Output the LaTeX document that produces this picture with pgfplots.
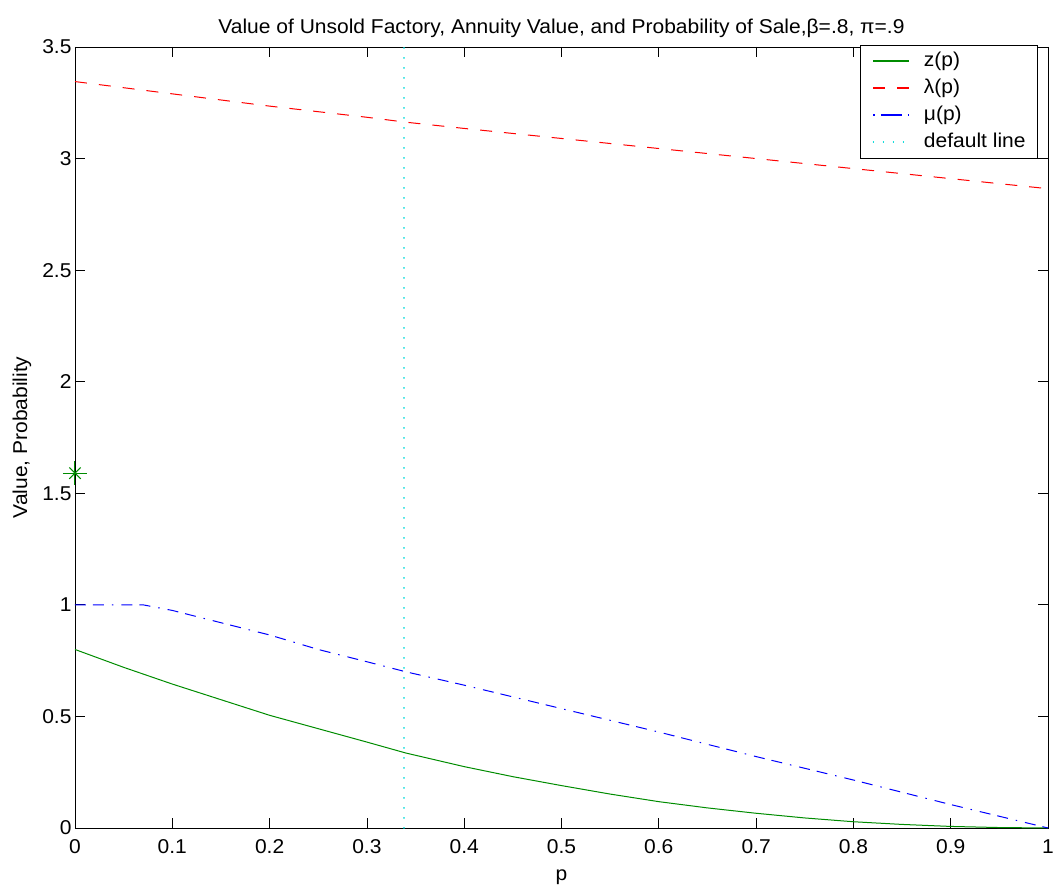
\documentclass[border=0pt]{standalone}
\usepackage{fontspec}
\setmainfont{Liberation Sans}[FakeStretch=1.05]
\usepackage{pgfplots}
\usepackage{pgfplotstable}
\pgfplotsset{compat=1.18}
\usetikzlibrary{calc}
\definecolor{mgreen}{rgb}{0,0.55,0}
\definecolor{mcyan}{rgb}{0,0.85,0.85}

% z(p): value of unsold factory
\pgfplotstableread{
p z
0.00 0.800
0.05 0.720
0.10 0.645
0.15 0.575
0.20 0.505
0.25 0.445
0.30 0.385
0.34 0.336
0.40 0.275
0.45 0.230
0.50 0.190
0.55 0.152
0.60 0.118
0.65 0.090
0.70 0.066
0.75 0.045
0.80 0.028
0.85 0.016
0.90 0.007
0.95 0.002
1.00 0.000
}\zdata

% lambda(p): annuity value
\pgfplotstableread{
p l
0.00 3.345
0.10 3.290
0.20 3.235
0.30 3.185
0.34 3.163
0.40 3.135
0.50 3.090
0.60 3.045
0.70 3.000
0.80 2.955
0.90 2.910
1.00 2.865
}\ldata

% mu(p): probability of sale
\pgfplotstableread{
p m
0.00 1.000
0.05 1.000
0.07 1.000
0.10 0.975
0.15 0.920
0.20 0.865
0.25 0.800
0.30 0.745
0.34 0.700
0.40 0.640
0.50 0.535
0.60 0.430
0.70 0.320
0.80 0.215
0.90 0.105
1.00 0.000
}\mdata

\newcommand{\lbl}{\fontsize{20}{24}\selectfont}

\begin{document}
\begin{tikzpicture}
\begin{axis}[
  name=ax,
  scale only axis, width=973pt, height=781pt,
  xmin=0, xmax=1, ymin=0, ymax=3.5,
  xtick={0,0.1,0.2,0.3,0.4,0.5,0.6,0.7,0.8,0.9,1},
  ytick={0,0.5,1,1.5,2,2.5,3,3.5},
  tick pos=both, tick align=inside, major tick length=10pt,
  axis line style={black, line width=0.9pt},
  tick style={black, line width=0.7pt},
  /pgf/number format/assume math mode=true,
  tick label style={font=\lbl},
  xticklabel style={yshift=-8pt},
  xlabel={p}, ylabel={Value, Probability},
  label style={font=\lbl},
  xlabel style={at={(axis description cs:0.5,0)}, anchor=center, yshift=-49pt},
  ylabel style={at={(axis description cs:0,0.5)}, anchor=center, yshift=53pt},
  title={Value of Unsold Factory, Annuity Value, and Probability of Sale,β=.8, π=.9},
  title style={font=\lbl, at={(axis description cs:0.5,1)}, anchor=center, yshift=13pt},
  clip=false,
  legend style={at={(1,1)}, anchor=north east, xshift=-10pt, yshift=2pt,
    draw=black, line width=0.9pt, font=\lbl, fill=white,
    inner xsep=12pt, inner ysep=6.5pt, row sep=8pt,
    nodes={inner sep=0pt, text height=15pt, text depth=4pt},
    /tikz/every odd column/.append style={column sep=14pt}},
  legend cell align=left,
  legend image code/.code={\draw[#1, line width=1.2pt] (0pt,0.5pt) -- (36pt,0.5pt);},
]
\addplot[mgreen, line width=1pt] table[x=p, y=z] {\zdata};
\addplot[red, line width=1pt, dash pattern=on 12pt off 12pt] table[x=p, y=l] {\ldata};
\addplot[blue, line width=1pt, dash pattern=on 11pt off 7pt on 11pt off 8pt on 1.5pt off 8pt,
  legend image post style={dash pattern=on 1.5pt off 6pt on 21pt off 6pt on 1.5pt off 6pt}] table[x=p, y=m] {\mdata};
\addplot[mcyan, line width=1.6pt, line cap=round, dash pattern=on 0.1pt off 9.9pt] coordinates {(0.338,0) (0.338,3.5)};
\addplot[mgreen, only marks, mark=+, mark size=12pt, mark options={line width=1pt}, forget plot] coordinates {(0,1.59)};
\addplot[mgreen, only marks, mark=x, mark size=8pt, mark options={line width=1pt}, forget plot] coordinates {(0,1.59)};
\legend{z(p), λ(p), μ(p), default line}
\end{axis}
\pgfresetboundingbox
\path ($(ax.south west)+(-75pt,-64pt)$) rectangle ($(ax.north east)+(7pt,47pt)$);
\end{tikzpicture}
\end{document}
